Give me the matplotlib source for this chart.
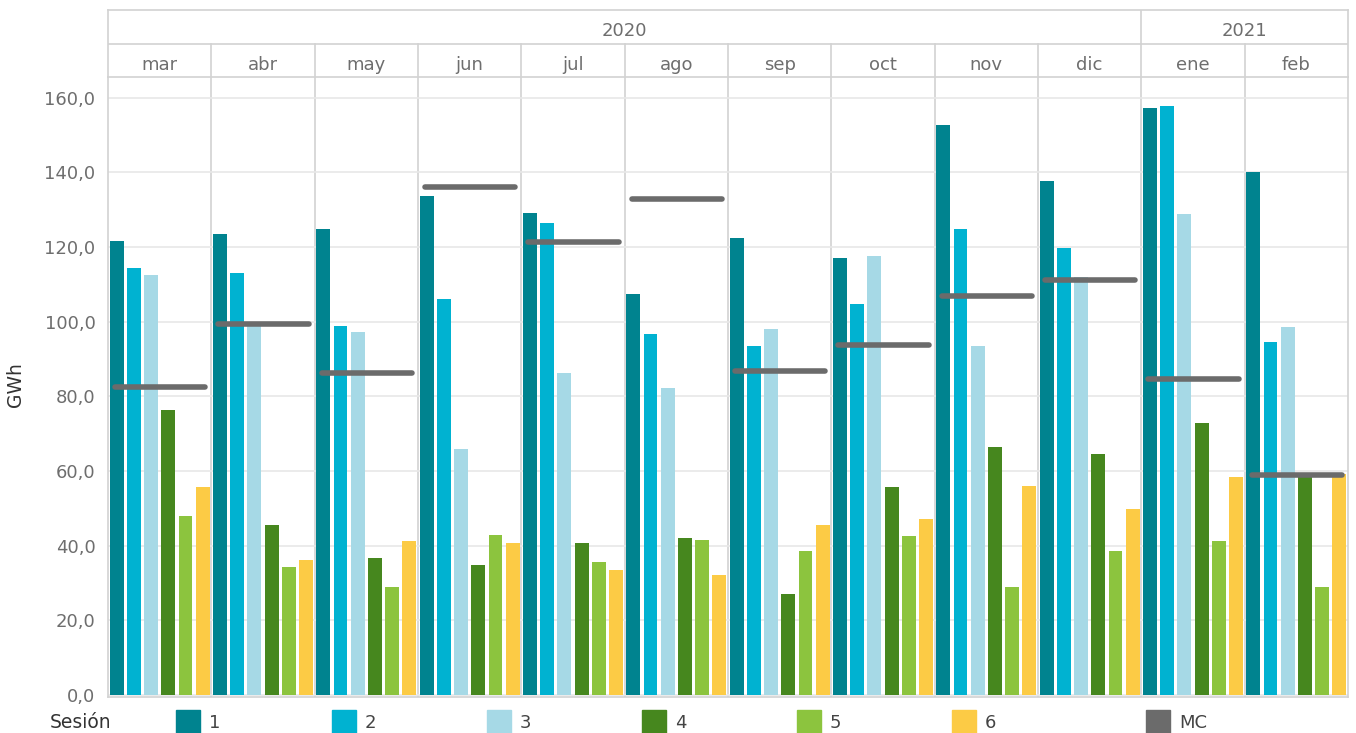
import numpy as np
import matplotlib
matplotlib.use("Agg")
import matplotlib.pyplot as plt
from matplotlib.patches import Rectangle

plt.rcParams['font.family'] = ['DejaVu Sans']

# === Data (GWh) ===
months = ["mar", "abr", "may", "jun", "jul", "ago", "sep", "oct", "nov", "dic", "ene", "feb"]
years = [("2020", 0, 10), ("2021", 10, 12)]
sessions = ["1", "2", "3", "4", "5", "6"]
s1 = [121.6, 123.5, 124.8, 133.7, 129.1, 107.4, 122.4, 117.1, 152.7, 137.7, 157.2, 140.1]
s2 = [114.4, 113.0, 98.9, 106.1, 126.4, 96.7, 93.5, 104.7, 124.8, 119.7, 157.8, 94.6]
s3 = [112.5, 98.8, 97.2, 65.9, 86.3, 82.2, 98.0, 117.6, 93.5, 112.0, 128.9, 98.6]
s4 = [76.3, 45.5, 36.7, 34.8, 40.7, 42.1, 27.1, 55.7, 66.4, 64.6, 72.9, 58.5]
s5 = [48.0, 34.3, 28.9, 42.9, 35.6, 41.5, 38.6, 42.6, 28.9, 38.6, 41.3, 28.9]
s6 = [55.7, 36.2, 41.3, 40.7, 33.5, 32.1, 45.5, 47.1, 56.0, 49.8, 58.4, 59.2]
mc = [82.5, 99.4, 86.3, 136.1, 121.4, 132.9, 86.8, 93.8, 106.9, 111.2, 84.6, 58.9]
series = [s1, s2, s3, s4, s5, s6]

colors = ["#00838f", "#00b2d1", "#a6d9e6", "#46871e", "#8cc43e", "#fccb45"]
mc_color = "#6b6b6b"
grid_c = "#e8e8e8"
sep_c = "#d2d2d2"
txt_c = "#6e6e6e"
dark_c = "#333333"

W, H = 1356, 733
def box(l, t, r, b):
    return [l / W, 1 - b / H, (r - l) / W, (b - t) / H]

fig = plt.figure(figsize=(W / 100, H / 100), dpi=100)
ax = fig.add_axes(box(108, 77, 1348, 697))
hax = fig.add_axes(box(108, 10, 1348, 77))
lax = fig.add_axes(box(0, 697, W, H))

n = len(months)
k = len(sessions)

# === Bars ===
for j, vals in enumerate(series):
    x = np.arange(n) * k + j
    ax.bar(x, vals, width=0.81, color=colors[j], zorder=2)

# === MC lines ===
for i, v in enumerate(mc):
    ax.plot([i * k - 0.1, i * k + 5.15], [v, v], color=mc_color, lw=4,
            solid_capstyle='round', zorder=3)

ax.set_xlim(-0.5, n * k - 0.5)
ax.set_ylim(-0.5, 165.5)
ax.set_xticks([])
ax.set_yticks(range(0, 161, 20))
ax.set_yticklabels([f"{v:.1f}".replace('.', ',') for v in range(0, 161, 20)],
                   color=txt_c, fontsize=13)
ax.tick_params(axis='y', length=0, pad=9)
ax.grid(axis='y', color=grid_c, lw=1.2, zorder=0)
for i in range(1, n):
    ax.axvline(i * k - 0.5, color=sep_c, lw=1.2, zorder=1)
for s in ['left', 'right', 'bottom']:
    ax.spines[s].set_color(sep_c)
    ax.spines[s].set_linewidth(1.2)
ax.spines['top'].set_visible(False)

fig.text(16 / W, 1 - 385 / H, "GWh", rotation=90, ha='center', va='center',
         fontsize=13.5, color=dark_c)

# === Header (year / month) ===
hax.set_xlim(-0.5, n * k - 0.5)
hax.set_ylim(0, 2)
hax.set_xticks([])
hax.set_yticks([])
for s in hax.spines.values():
    s.set_color(sep_c)
    s.set_linewidth(1.2)
hax.axhline(1, color=sep_c, lw=1.2)
for i in range(1, n):
    hax.plot([i * k - 0.5] * 2, [0, 1], color=sep_c, lw=1.2)
for i, m in enumerate(months):
    hax.text(i * k + 2.5, 0.21, m, ha='center', va='baseline', color=txt_c, fontsize=13)
for label, a, b in years:
    if a > 0:
        hax.plot([a * k - 0.5] * 2, [1, 2], color=sep_c, lw=1.2)
    hax.text((a * k + b * k) / 2 - 0.5, 1.22, label, ha='center', va='baseline',
             color=txt_c, fontsize=13)

# === Legend ===
lax.set_xlim(0, W)
lax.set_ylim(H, 697)
lax.axis('off')
lax.text(50, 723, "Sesión", ha='left', va='center', fontsize=13.5, color=dark_c)
leg_labels = sessions + ["MC"]
leg_colors = colors + [mc_color]
leg_x = [176, 332, 487, 642, 797, 952, 1146]
for x0, lab, c in zip(leg_x, leg_labels, leg_colors):
    lax.add_patch(Rectangle((x0, 710), 24, 24, color=c, clip_on=False))
    lax.text(x0 + 33, 723, lab, ha='left', va='center', fontsize=13, color="#444444")

fig.savefig("out.png", dpi=100)
